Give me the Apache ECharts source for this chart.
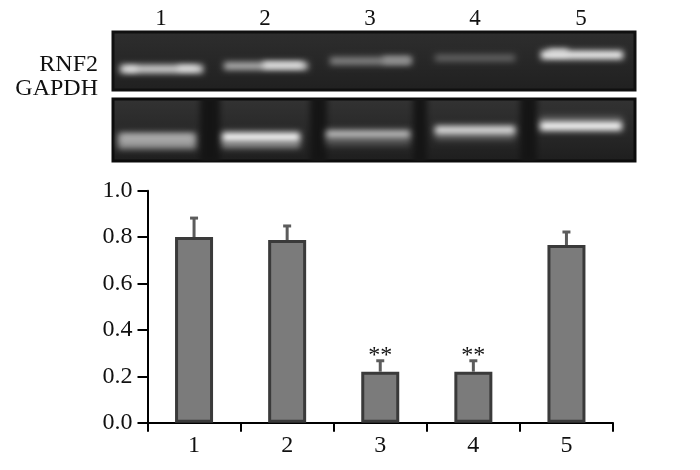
<!DOCTYPE html>
<html>
<head>
<meta charset="utf-8">
<style>
  html, body { margin: 0; padding: 0; background: #fff; }
  #main { width: 700px; height: 470px; }
</style>
<script src="https://cdn.jsdelivr.net/npm/echarts@6/dist/echarts.min.js"></script>
</head>
<body>
<div id="main"></div>
<script>
// bar chart values
const groups = ['1', '2', '3', '4', '5']
const ratio = [0.80, 0.787, 0.22, 0.22, 0.766]
const ratioUpper = [0.882, 0.848, 0.267, 0.267, 0.822]
const marks = ['', '', '**', '**', '']
const yTicks = [0, 0.2, 0.4, 0.6, 0.8, 1.0]

// gel rows: along lane, down the gel, band thickness, brightness
const laneCenters = [48, 152, 257, 362, 468]
const rnf2Start = [7, 12, 65, 111, 150, 217, 270, 322, 428, 435]
const rnf2End = [90, 24, 84, 195, 190, 298, 298, 402, 510, 455]
const rnf2Pos = [37, 37, 36, 34, 33, 29, 28, 26, 23, 20]
const rnf2Size = [8, 3, 3, 7, 5, 7, 6, 6, 8, 5]
const rnf2Level = [0.85, 1, 1, 0.75, 1, 0.55, 0.6, 0.42, 1, 0.9]

const gapdhStart = [87, 197, 300, 407, 5, 8, 109, 109, 213, 213, 322, 322, 427, 427]
const gapdhEnd = [107, 214, 314, 424, 83, 80, 187, 187, 297, 297, 402, 402, 509, 509]
const gapdhPos = [30, 30, 30, 30, 42, 39, 46, 38, 42, 35, 37, 31, 19, 27]
const gapdhSize = [70, 70, 70, 70, 16, 5, 6, 9, 10, 7, 10, 8, 4, 9]
const gapdhLevel = [0.08, 0.08, 0.08, 0.08, 0.58, 0.72, 0.55, 1, 0.3, 0.8, 0.3, 0.9, 0.35, 1]

function gelRows(start, end, pos, size, level) {
  return start.map((s, i) => [s, end[i], pos[i], size[i], level[i]])
}

// only the shadow of the rect lands in the panel, that gives the soft gel look
const shadowShift = 2000
function renderBand(params, api) {
  const a = api.coord([api.value(0), api.value(2)])
  const b = api.coord([api.value(1), api.value(2)])
  const h = api.size([0, api.value(3)])[1]
  const g = Math.round(api.value(4) * 255)
  const color = 'rgb(' + g + ',' + g + ',' + g + ')'
  return {
    type: 'rect',
    shape: { x: a[0] - shadowShift, y: a[1] - h / 2, width: b[0] - a[0], height: h },
    style: { fill: color, shadowColor: color, shadowBlur: 6, shadowOffsetX: shadowShift }
  }
}

function renderError(params, api) {
  const i = api.value(0)
  const base = api.coord([i, api.value(1)])
  const top = api.coord([i, api.value(2)])
  const children = [
    { type: 'line', shape: { x1: base[0], y1: base[1], x2: top[0], y2: top[1] }, style: { stroke: '#5c5c5c', lineWidth: 3 } },
    { type: 'line', shape: { x1: base[0] - 4, y1: top[1], x2: base[0] + 4, y2: top[1] }, style: { stroke: '#5c5c5c', lineWidth: 3 } }
  ]
  if (marks[i]) {
    children.push({
      type: 'text',
      style: {
        text: marks[i],
        x: base[0],
        y: top[1] + 7,
        align: 'center',
        verticalAlign: 'bottom',
        font: '24px "Liberation Serif"',
        fill: '#111'
      }
    })
  }
  return { type: 'group', children: children }
}

function gelBackground(top, bottom) {
  return new echarts.graphic.LinearGradient(0, 0, 0, 1, [
    { offset: 0, color: top },
    { offset: 1, color: bottom }
  ])
}

const myChart = echarts.init(document.getElementById('main'), null, { renderer: 'canvas' })
const serif = '"Liberation Serif", "Times New Roman", serif'

myChart.setOption({
  animation: false,
  backgroundColor: '#fff',
  textStyle: { fontFamily: serif, color: '#111' },
  grid: [
    { left: 113, top: 32, width: 522, height: 58, show: true, backgroundColor: gelBackground('#2e2e2e', '#202020'), borderColor: '#101010', borderWidth: 3 },
    { left: 113, top: 99, width: 522, height: 62, show: true, backgroundColor: gelBackground('#333333', '#1e1e1e'), borderColor: '#0c0c0c', borderWidth: 3 },
    { left: 147.5, top: 190.7, width: 465.5, height: 232 }
  ],
  xAxis: [
    {
      gridIndex: 0,
      type: 'value',
      min: 0,
      max: 522,
      position: 'top',
      axisLine: { show: false },
      axisTick: { show: false },
      splitLine: { show: false },
      axisLabel: {
        customValues: laneCenters,
        formatter: v => groups[laneCenters.indexOf(v)],
        margin: 2,
        fontSize: 23,
        color: '#111',
        fontFamily: serif
      }
    },
    { gridIndex: 1, type: 'value', min: 0, max: 522, show: false },
    {
      gridIndex: 2,
      type: 'category',
      data: groups,
      axisLine: { lineStyle: { color: '#000', width: 2 } },
      axisTick: { show: true, length: 9, alignWithLabel: false, lineStyle: { color: '#000', width: 2 } },
      axisLabel: { margin: 11, fontSize: 24, color: '#111', fontFamily: serif }
    }
  ],
  yAxis: [
    { gridIndex: 0, type: 'value', min: 0, max: 58, inverse: true, show: false },
    { gridIndex: 1, type: 'value', min: 0, max: 62, inverse: true, show: false },
    {
      gridIndex: 2,
      type: 'value',
      min: 0,
      max: 1,
      interval: 0.2,
      axisLine: { show: true, lineStyle: { color: '#000', width: 2 } },
      axisTick: { show: true, length: 10, lineStyle: { color: '#000', width: 2 } },
      splitLine: { show: false },
      axisLabel: {
        margin: 15,
        fontSize: 24,
        color: '#111',
        fontFamily: serif,
        formatter: v => (yTicks.includes(v) ? v.toFixed(1) : '')
      }
    }
  ],
  graphic: [
    { type: 'text', right: 602, top: 53, style: { text: 'RNF2', font: '24px "Liberation Serif"', fill: '#111' } },
    { type: 'text', right: 602, top: 77, style: { text: 'GAPDH', font: '24px "Liberation Serif"', fill: '#111' } }
  ],
  series: [
    {
      type: 'custom',
      xAxisIndex: 0,
      yAxisIndex: 0,
      renderItem: renderBand,
      clip: true,
      silent: true,
      data: gelRows(rnf2Start, rnf2End, rnf2Pos, rnf2Size, rnf2Level)
    },
    {
      type: 'custom',
      xAxisIndex: 1,
      yAxisIndex: 1,
      renderItem: renderBand,
      clip: true,
      silent: true,
      data: gelRows(gapdhStart, gapdhEnd, gapdhPos, gapdhSize, gapdhLevel)
    },
    {
      type: 'bar',
      xAxisIndex: 2,
      yAxisIndex: 2,
      data: ratio,
      barWidth: 38,
      itemStyle: { color: '#7b7b7b', borderColor: '#3a3a3a', borderWidth: 3 }
    },
    {
      type: 'custom',
      xAxisIndex: 2,
      yAxisIndex: 2,
      renderItem: renderError,
      z: 1,
      data: groups.map((g, i) => [i, ratio[i], ratioUpper[i]])
    }
  ]
})
</script>
</body>
</html>
